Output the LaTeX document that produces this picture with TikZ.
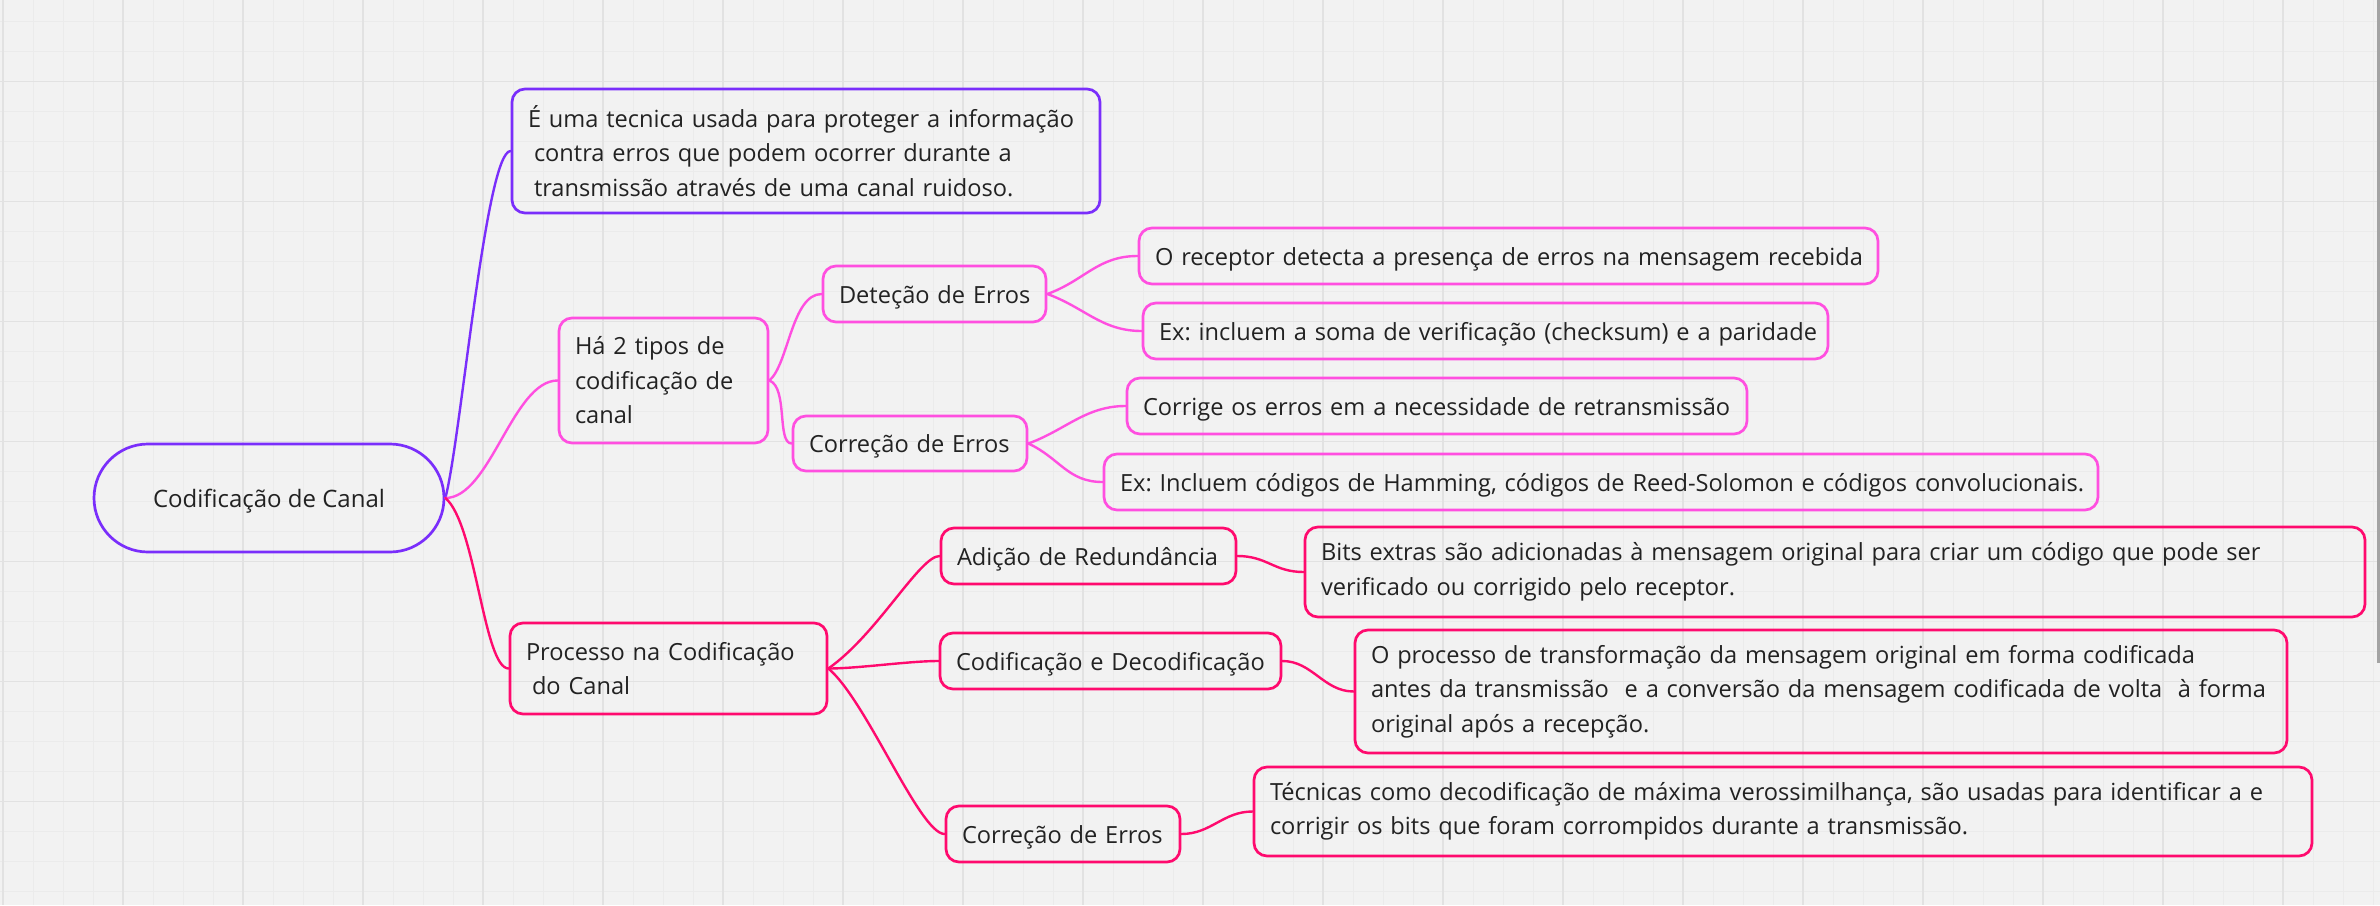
\documentclass[tikz,border=0pt]{standalone}
\usepackage{fontspec}
\setmainfont{Open Sans}
\frenchspacing
\definecolor{bg}{HTML}{F2F2F2}
\definecolor{gridminor}{HTML}{EBEBEB}
\definecolor{gridmajor}{HTML}{E2E2E2}
\definecolor{cpurple}{HTML}{7A2EFB}
\definecolor{cpink}{HTML}{FF4FE0}
\definecolor{cred}{HTML}{FF0A6E}
\definecolor{txt}{HTML}{222222}
\definecolor{scroll}{HTML}{A3A3A3}
\begin{document}
\begin{tikzpicture}[x=1pt,y=1pt,
  box/.style={draw=#1, line width=2.7pt, rounded corners=13pt, inner xsep=16pt, inner ysep=0pt,
    align=left, text=txt, font=\fontsize{23.6}{34.5}\selectfont},
  oneline/.style={text height=24pt, text depth=6pt},
  link/.style={draw=#1, line width=2.4pt, line cap=round}]
\useasboundingbox (0,0) rectangle (2380,-905);
\fill[bg] (0,0) rectangle (2380,-905);
% grid
\foreach \x in {3,33,...,2380} \draw[gridminor, line width=1pt] (\x,0) -- (\x,-905);
\foreach \y in {21.5,51.5,...,905} \draw[gridminor, line width=1pt] (0,-\y) -- (2380,-\y);
\foreach \x in {3,123,...,2380} \draw[gridmajor, line width=1.6pt] (\x,0) -- (\x,-905);
\foreach \y in {81.5,201.5,...,905} \draw[gridmajor, line width=1.6pt] (0,-\y) -- (2380,-\y);
\fill[scroll] (2377,0) rectangle (2380,-663);

% nodes
\node[box=cpurple, oneline, rounded corners=54pt, minimum width=350pt, minimum height=108pt, align=center,
  font=\fontsize{24}{34.5}\selectfont] (root) at (269,-498) {Codificação de Canal};

\node[box=cpurple, text width=556pt, minimum height=124pt] (def) at (806,-151)
  {\mbox{É uma tecnica usada para proteger a informação}\\\mbox{\hspace*{6pt}contra erros que podem ocorrer durante a}\\\mbox{\hspace*{6pt}transmissão através de uma canal ruidoso.}};

\node[box=cpink, text width=177pt, minimum height=125pt] (has) at (663.5,-380.5)
  {\mbox{Há 2 tipos de}\\\mbox{codificação de}\\\mbox{canal}};
\node[box=cpink, oneline, text width=191pt, minimum height=56pt] (det) at (934.5,-294) {\mbox{Deteção de Erros}};
\node[box=cpink, oneline, text width=202pt, minimum height=55pt] (cor1) at (910,-443.5) {\mbox{Correção de Erros}};
\node[box=cpink, oneline, text width=707pt, minimum height=56pt] (rec) at (1508.5,-256) {\mbox{O receptor detecta a presença de erros na mensagem recebida}};
\node[box=cpink, oneline, text width=653pt, minimum height=56pt] (ex1) at (1485.5,-331) {\mbox{Ex: incluem a soma de verificação (checksum) e a paridade}};
\node[box=cpink, oneline, text width=588pt, minimum height=56pt] (corr) at (1437,-406) {\mbox{Corrige os erros em a necessidade de retransmissão}};
\node[box=cpink, oneline, text width=962pt, minimum height=56pt] (ex2) at (1601,-482) {\mbox{Ex: Incluem códigos de Hamming, códigos de Reed-Solomon e códigos convolucionais.}};

\node[box=cred, text width=285pt, minimum height=91pt] (proc) at (668.5,-668.5)
  {\mbox{Processo na Codificação}\\\mbox{\hspace*{6pt}do Canal}};
\node[box=cred, oneline, text width=263pt, minimum height=56pt] (adi) at (1088.5,-556) {\mbox{Adição de Redundância}};
\node[box=cred, oneline, text width=309pt, minimum height=56pt] (cod) at (1110.5,-661) {\mbox{Codificação e Decodificação}};
\node[box=cred, oneline, text width=202pt, minimum height=56pt] (cor2) at (1063,-834) {\mbox{Correção de Erros}};
\node[box=cred, text width=1028pt, minimum height=90pt] (bits) at (1835,-572)
  {\mbox{Bits extras são adicionadas à mensagem original para criar um código que pode ser}\\\mbox{verificado ou corrigido pelo receptor.}};
\node[box=cred, text width=900pt, minimum height=123pt] (oproc) at (1821,-691.5)
  {\mbox{O processo de transformação da mensagem original em forma codificada}\\\mbox{antes da transmissão\ \ e a conversão da mensagem codificada de volta\ \ à forma}\\\mbox{original após a recepção.}};
\node[box=cred, text width=1026pt, minimum height=89pt] (tec) at (1783,-811.5)
  {\mbox{Técnicas como decodificação de máxima verossimilhança, são usadas para identificar a e}\\\mbox{corrigir os bits que foram corrompidos durante a transmissão.}};

% connectors
\draw[link=cpurple] (root.east) to[out=75,in=180,out distance=60pt,in distance=25pt] (def.west);
\draw[link=cpink] (root.east) to[out=0,in=180,out distance=45pt,in distance=45pt] (has.west);
\draw[link=cred] (root.east) to[out=-40,in=180,out distance=40pt,in distance=25pt] (proc.west);

\draw[link=cpink] (has.east) to[out=40,in=180,out distance=25pt,in distance=30pt] (det.west);
\draw[link=cpink] (has.east) to[out=-20,in=180,out distance=20pt,in distance=15pt] (cor1.west);
\draw[link=cpink] (det.east) to[out=20,in=180,out distance=40pt,in distance=40pt] (rec.west);
\draw[link=cpink] (det.east) to[out=-20,in=180,out distance=40pt,in distance=40pt] (ex1.west);
\draw[link=cpink] (cor1.east) to[out=20,in=180,out distance=40pt,in distance=40pt] (corr.west);
\draw[link=cpink] (cor1.east) to[out=-25,in=180,out distance=35pt,in distance=35pt] (ex2.west);

\draw[link=cred] (proc.east) to[out=35,in=180,out distance=60pt,in distance=20pt] (adi.west);
\draw[link=cred] (proc.east) to[out=0,in=180,out distance=30pt,in distance=30pt] (cod.west);
\draw[link=cred] (proc.east) to[out=-40,in=180,out distance=50pt,in distance=25pt] (cor2.west);
\draw[link=cred] (adi.east) to[out=0,in=180,out distance=30pt,in distance=30pt] (bits.west);
\draw[link=cred] (cod.east) to[out=0,in=180,out distance=30pt,in distance=30pt] (oproc.west);
\draw[link=cred] (cor2.east) to[out=0,in=180,out distance=30pt,in distance=30pt] (tec.west);
\end{tikzpicture}
\end{document}
